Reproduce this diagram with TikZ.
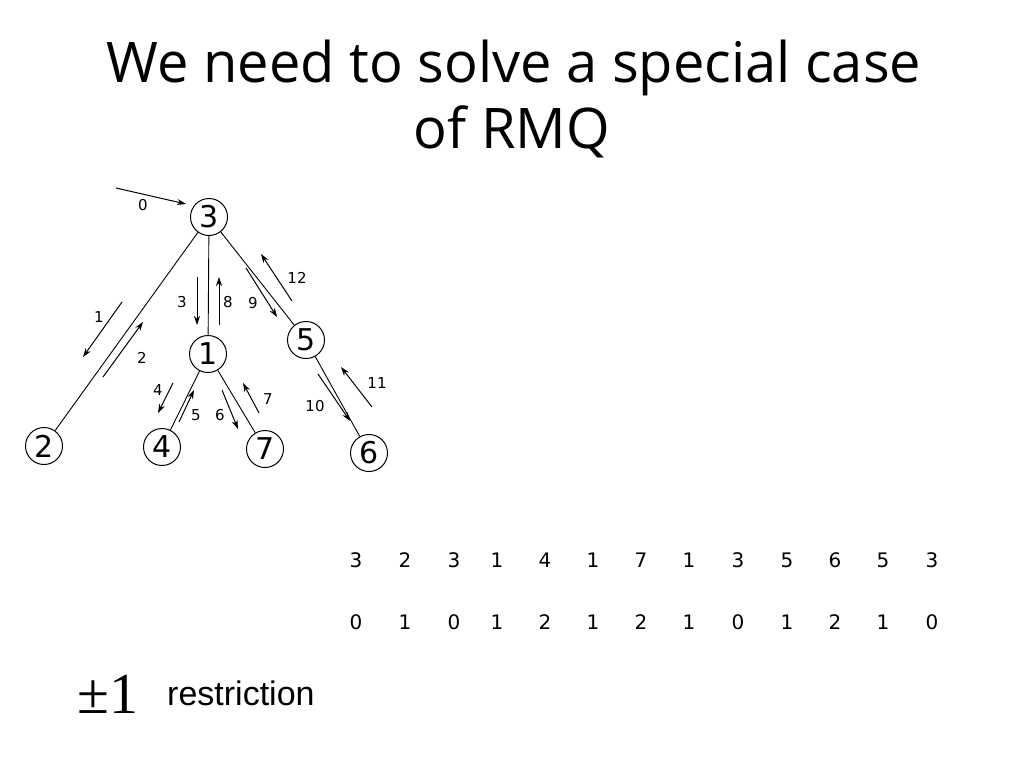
\documentclass[tikz,border=0pt]{standalone}
\usepackage{fontspec}
\setmainfont{DejaVu Sans}
\newfontfamily\titlefont{Open Sans}
\newfontfamily\arialfont{Liberation Sans}
\newfontfamily\timesfont{Liberation Serif}
\usetikzlibrary{arrows.meta}
\begin{document}
\begin{tikzpicture}[x=1pt,y=-1pt,
  vert/.style={circle,draw,line width=1pt,minimum size=37pt,inner sep=0pt,font=\fontsize{30}{30}\selectfont},
  edge/.style={line width=0.9pt},
  walk/.style={line width=1pt,-{Stealth[length=9pt,width=6pt]}},
  lab/.style={font=\fontsize{15}{15}\selectfont,inner sep=0pt},
  seq/.style={font=\fontsize{20}{20}\selectfont,inner sep=0pt},
  ttl/.style={font=\titlefont\fontsize{56}{56}\selectfont,anchor=base,inner sep=0pt}]
\useasboundingbox (0,0) rectangle (1024,768);
\fill[white] (0,0) rectangle (1024,768);
% title
\node[ttl] (t1) at (514,82) {We need to solve a special case};
\node[ttl] (t2) at (512,148) {of RMQ};
% tree
\node[vert] (v3) at (209,217) {3};
\node[vert] (v1) at (208,354) {1};
\node[vert] (v5) at (306,340) {5};
\node[vert] (v2) at (44,446) {2};
\node[vert] (v4) at (162,447) {4};
\node[vert] (v7) at (265,449) {7};
\node[vert] (v6) at (369,453) {6};
\draw[edge] (v3) -- (v2);
\draw[edge] (v3) -- (v1);
\draw[edge] (v3) -- (v5);
\draw[edge] (v1) -- (v4);
\draw[edge] (v1) -- (v7);
\draw[edge] (v5) -- (v6);
% walk arrows
\coordinate (a0s) at (116,188); \coordinate (a0e) at (186,204);
\coordinate (a1s) at (122,302); \coordinate (a1e) at (83,357);
\coordinate (a2s) at (103,377); \coordinate (a2e) at (143,322);
\coordinate (a3s) at (197,277); \coordinate (a3e) at (197,325);
\coordinate (a8s) at (219,325); \coordinate (a8e) at (219,277);
\coordinate (a9s) at (246,268); \coordinate (a9e) at (277,317);
\coordinate (a12s) at (292,301); \coordinate (a12e) at (261,254);
\coordinate (a4s) at (173,383); \coordinate (a4e) at (158,413);
\coordinate (a5s) at (179,422); \coordinate (a5e) at (194,390);
\coordinate (a6s) at (222,390); \coordinate (a6e) at (238,429);
\coordinate (a7s) at (259,413); \coordinate (a7e) at (243,383);
\coordinate (a10s) at (318,374); \coordinate (a10e) at (350,421);
\coordinate (a11s) at (372,407); \coordinate (a11e) at (341,367);
\foreach \i in {0,1,2,3,8,9,12,4,5,6,7,10,11}
  \draw[walk] (a\i s) -- (a\i e);
% walk labels
\node[lab] (l0) at (143,205) {0};
\node[lab] (l1) at (99,317) {1};
\node[lab] (l2) at (142,358) {2};
\node[lab] (l3) at (182,302) {3};
\node[lab] (l8) at (228,302) {8};
\node[lab] (l9) at (253,303) {9};
\node[lab] (l12) at (297,278) {12};
\node[lab] (l4) at (158,390) {4};
\node[lab] (l5) at (196,415) {5};
\node[lab] (l6) at (220,415) {6};
\node[lab] (l7) at (268,399) {7};
\node[lab] (l10) at (315,406) {10};
\node[lab] (l11) at (377,383) {11};
% sequences
\foreach \x/\a/\b [count=\k] in {356/3/0,405/2/1,454/3/0,497/1/1,545/4/2,593/1/1,641/7/2,689/1/1,738/3/0,787/5/1,835/6/2,883/5/1,932/3/0}{
  \node[seq] (e\k) at (\x,560) {\a};
  \node[seq] (d\k) at (\x,622) {\b};
}
% restriction
\node[anchor=base west,inner sep=0pt,font=\timesfont\fontsize{58}{58}\selectfont] (pm) at (77,713) {±1};
\node[anchor=base west,inner sep=0pt,font=\arialfont\fontsize{34}{34}\selectfont] (rs) at (167,705) {restriction};
\end{tikzpicture}
\end{document}
